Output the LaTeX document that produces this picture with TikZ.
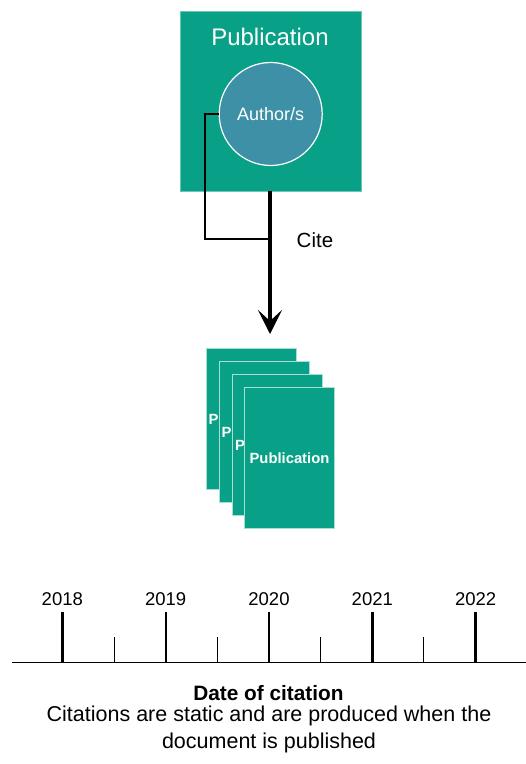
\documentclass[tikz,border=0pt]{standalone}
\usepackage{fontspec}
\setmainfont{Liberation Sans}
\usetikzlibrary{arrows.meta}
\definecolor{pubteal}{RGB}{8,160,134}
\definecolor{authblue}{RGB}{61,144,166}
\begin{document}
\begin{tikzpicture}[x=1pt,y=-1pt,
  pubbox/.style={fill=pubteal, draw=pubteal!60!white, line width=0.6pt, minimum width=181pt, minimum height=180pt, inner sep=0pt},
  authcircle/.style={circle, fill=authblue, draw=white, line width=1.2pt, minimum size=103pt, inner sep=0pt, text=white, font=\fontsize{18}{20}\selectfont},
  card/.style={fill=pubteal, draw=pubteal!35!white, line width=0.8pt, minimum width=90pt, minimum height=141pt, inner sep=0pt, anchor=north west},
  cardtext/.style={text=white, font=\bfseries\fontsize{14.8}{17}\selectfont, inner sep=0pt, anchor=west},
  thinline/.style={line width=2pt},
  bigarrow/.style={line width=4pt, -{Stealth[length=24pt, width=24pt, inset=11pt]}},
  major/.style={line width=2.4pt},
  minor/.style={line width=1.3pt},
  yearlabel/.style={font=\fontsize{18.5}{21}\selectfont, inner sep=0pt},
]
\useasboundingbox (0,0) rectangle (526,764);
\fill[white] (0,0) rectangle (526,764);

% top publication
\node[pubbox] (pub) at (270.5,101) {};
\node[text=white, font=\fontsize{24}{28}\selectfont, inner sep=0pt] (pubtitle) at (270,37) {Publication};
\node[authcircle] (author) at (270.7,114) {Author/s};

% connectors
\coordinate (join) at (270,239);
\coordinate (tip) at (270,334);
\coordinate (bend) at (205,239);
\draw[thinline] (author.west) -- (author.west -| bend) -- (bend) -- (join);
\draw[bigarrow] (pub.south -| join) -- (tip);
\node[font=\fontsize{20.5}{23}\selectfont, inner sep=0pt, anchor=west] (cite) at (296.5,240) {Cite};

% stack of publications
\node[card] (c1) at (206,348.3) {};
\node[cardtext] (t1) at ([xshift=2.3pt]c1.west) {P};
\node[card] (c2) at (218.8,361.2) {};
\node[cardtext] (t2) at ([xshift=2.5pt]c2.west) {P};
\node[card] (c3) at (231.6,374.1) {};
\node[cardtext] (t3) at ([xshift=3.4pt]c3.west) {P};
\node[card] (c4) at (244.4,387) {};
\node[cardtext] (t4) at ([xshift=5pt]c4.west) {Publication};

% timeline
\coordinate (axl) at (11.7,662.7);
\coordinate (axr) at (526,662.7);
\draw[line width=1.5pt] (axl) -- (axr);
\foreach \x/\yr [count=\i] in {62.3/2018,165.7/2019,269/2020,372.3/2021,475.6/2022}{
  \coordinate (mt\i) at (\x,611.7);
  \draw[major] (mt\i) -- (mt\i |- axl);
  \node[yearlabel] (yr\i) at (\x,599.3) {\yr};
}
\foreach \x [count=\i] in {114.7,217.6,320.6,423.6}{
  \coordinate (nt\i) at (\x,637.3);
  \draw[minor] (nt\i) -- (nt\i |- axl);
}

% caption
\node[font=\bfseries\fontsize{20.8}{24}\selectfont, inner sep=0pt] (dtitle) at (268.5,693.3) {Date of citation};
\node[font=\fontsize{21.5}{27}\selectfont, inner sep=0pt, align=center] (desc) at (269,729.7) {Citations are static and are produced when the\\document is published};
\end{tikzpicture}
\end{document}
